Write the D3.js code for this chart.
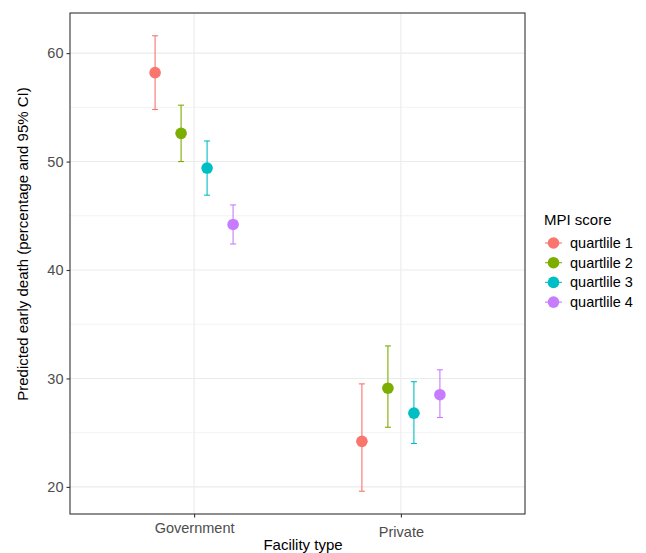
<!DOCTYPE html>
<html>
<head>
<meta charset="utf-8">
<script src="https://cdn.jsdelivr.net/npm/d3@7"></script>
<style>
body { margin: 0; background: #fff; font-family: "Liberation Sans", Arial, sans-serif; }
</style>
</head>
<body>
<div id="canvas"></div>
<script>
// data
var facilities = ['Government', 'Private'];
var quartiles = ['quartlile 1', 'quartlile 2', 'quartlile 3', 'quartlile 4'];
var colors = ['#F8766D', '#7CAE00', '#00BFC4', '#C77CFF'];

// estimate, lower CI, upper CI per quartile (Government, then Private)
var govEst = [58.2, 52.6, 49.4, 44.2];
var govLo  = [54.8, 50.0, 46.9, 42.4];
var govHi  = [61.6, 55.2, 51.9, 46.0];
var privEst = [24.2, 29.1, 26.8, 28.5];
var privLo  = [19.6, 25.5, 24.0, 26.4];
var privHi  = [29.5, 33.0, 29.7, 30.8];

var yTicks = [20, 30, 40, 50, 60];
var yMinor = [25, 35, 45, 55];

var rows = [];
quartiles.forEach(function(q, i){
    rows.push({fac: 'Government', q: q, i: i, est: govEst[i], lo: govLo[i], hi: govHi[i]});
    rows.push({fac: 'Private', q: q, i: i, est: privEst[i], lo: privLo[i], hi: privHi[i]});
});

var W = 646, H = 553;
var m = {t: 13, l: 70, r: 121, b: 39};
var w = W - m.l - m.r, h = H - m.t - m.b;
var font = '"Liberation Sans", Arial, sans-serif';

var svg = d3.select('#canvas').append('svg')
    .attr('width', W).attr('height', H)
    .style('font-family', font);

var plot = svg.append('g').attr('transform', 'translate(' + m.l + ',' + m.t + ')');

var y = d3.scaleLinear().domain([17.5, 63.7]).range([h, 0]);
var x = d3.scalePoint().domain(facilities).range([0, w]).padding(0.6);
var dodge = d3.scalePoint().domain(quartiles).range([-39, 39]);

// grid
plot.selectAll('.minor').data(yMinor).enter().append('line')
    .attr('x1', 0).attr('x2', w)
    .attr('y1', d => y(d)).attr('y2', d => y(d))
    .attr('stroke', '#ebebeb').attr('stroke-width', 0.6);
plot.selectAll('.major').data(yTicks).enter().append('line')
    .attr('x1', 0).attr('x2', w)
    .attr('y1', d => y(d)).attr('y2', d => y(d))
    .attr('stroke', '#ebebeb').attr('stroke-width', 1.1);
plot.selectAll('.vgrid').data(facilities).enter().append('line')
    .attr('x1', d => x(d)).attr('x2', d => x(d))
    .attr('y1', 0).attr('y2', h)
    .attr('stroke', '#ebebeb').attr('stroke-width', 1.1);

// error bars
var cap = 3;
var bars = plot.selectAll('.eb').data(rows).enter().append('g')
    .attr('transform', d => 'translate(' + (x(d.fac) + dodge(d.q)) + ',0)')
    .attr('stroke', d => colors[d.i]).attr('stroke-width', 1.1);
bars.append('line').attr('x1', 0).attr('x2', 0)
    .attr('y1', d => y(d.lo)).attr('y2', d => y(d.hi));
bars.append('line').attr('x1', -cap).attr('x2', cap)
    .attr('y1', d => y(d.lo)).attr('y2', d => y(d.lo));
bars.append('line').attr('x1', -cap).attr('x2', cap)
    .attr('y1', d => y(d.hi)).attr('y2', d => y(d.hi));

plot.selectAll('.pt').data(rows).enter().append('circle')
    .attr('cx', d => x(d.fac) + dodge(d.q))
    .attr('cy', d => y(d.est))
    .attr('r', 5.8)
    .attr('fill', d => colors[d.i]);

// border
plot.append('rect').attr('width', w).attr('height', h)
    .attr('fill', 'none').attr('stroke', '#333').attr('stroke-width', 1.1);

// axes
var yAxis = plot.append('g').call(d3.axisLeft(y).tickValues(yTicks).tickSize(3.5).tickPadding(3));
var xAxis = plot.append('g').attr('transform', 'translate(0,' + h + ')')
    .call(d3.axisBottom(x).tickSize(3.5).tickPadding(5));
[yAxis, xAxis].forEach(function(a){
    a.select('.domain').remove();
    a.selectAll('line').attr('stroke', '#333').attr('stroke-width', 1.1);
    a.selectAll('text').attr('fill', '#4d4d4d')
        .style('font-size', '14.5px').style('font-family', font);
});
xAxis.selectAll('text').filter(d => d == 'Private').attr('dy', '1.0em');

svg.append('text')
    .attr('x', 303).attr('y', 550)
    .attr('text-anchor', 'middle')
    .style('font-size', '15px').text('Facility type');
svg.append('text')
    .attr('transform', 'translate(28,244) rotate(-90)')
    .attr('text-anchor', 'middle')
    .style('font-size', '15px').text('Predicted early death (percentage and 95% CI)');

// legend
var lg = svg.append('g').attr('transform', 'translate(543,0)');
lg.append('text').attr('x', 1).attr('y', 225)
    .style('font-size', '15px').text('MPI score');
var items = lg.selectAll('.li').data(quartiles).enter().append('g')
    .attr('transform', (d, i) => 'translate(0,' + (243 + i * 19.7) + ')');
items.append('line').attr('x1', 2).attr('x2', 19).attr('y1', 0).attr('y2', 0)
    .attr('stroke', (d, i) => colors[i]).attr('stroke-width', 1.1);
items.append('circle').attr('cx', 10.5).attr('cy', 0).attr('r', 5.8)
    .attr('fill', (d, i) => colors[i]);
items.append('text').attr('x', 27).attr('y', 0).attr('dy', '0.35em')
    .style('font-size', '14.5px').text(d => d);
</script>
</body>
</html>
